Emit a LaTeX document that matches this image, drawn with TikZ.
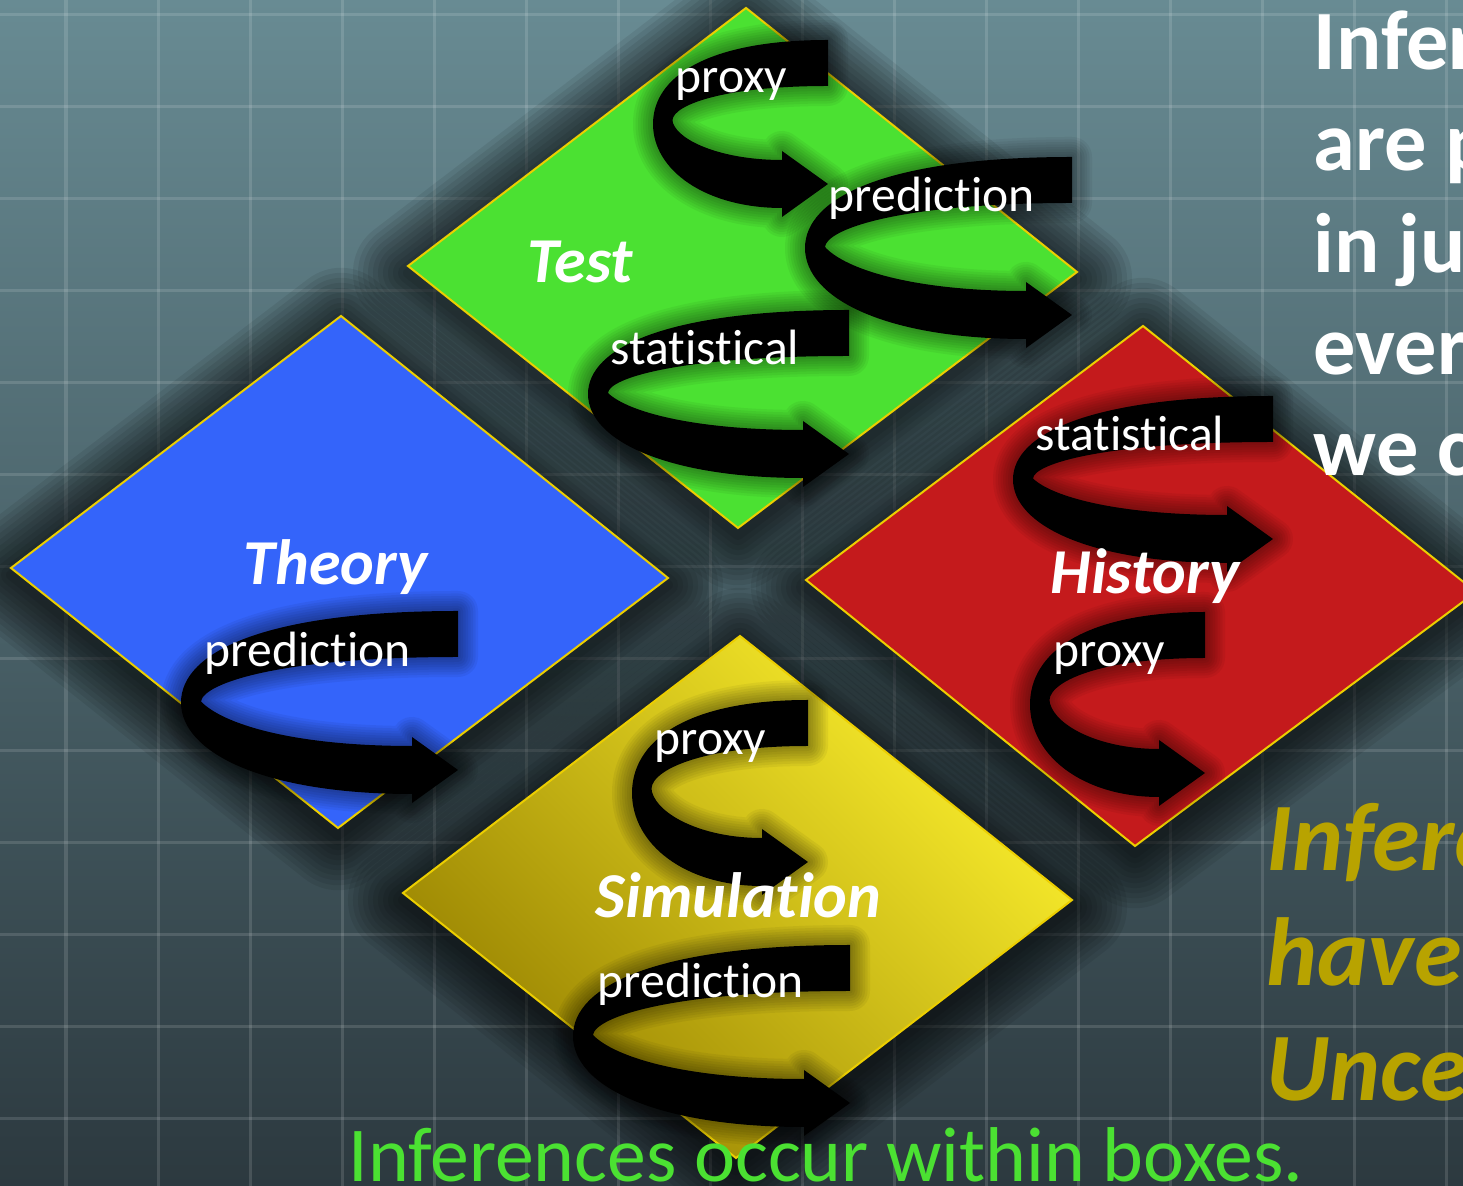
\documentclass[tikz,border=0pt]{standalone}
\usepackage{fontspec}
\setmainfont{Carlito}[Ligatures=NoCommon]
\usetikzlibrary{calc}
\definecolor{bgtop}{RGB}{104,139,147}
\definecolor{bgmid}{RGB}{72,96,104}
\definecolor{bgbot}{RGB}{44,57,63}
\definecolor{testgreen}{RGB}{75,225,50}
\definecolor{theoryblue}{RGB}{52,100,250}
\definecolor{historyred}{RGB}{196,26,28}
\definecolor{simlight}{RGB}{252,240,45}
\definecolor{simmid}{RGB}{228,200,10}
\definecolor{simdark}{RGB}{150,128,0}
\definecolor{rimyellow}{RGB}{236,206,0}
\definecolor{noteolive}{RGB}{184,163,0}
\tikzset{
  gridline/.style={white, opacity=0.13, line width=0.03cm},
  boxshade/.style={black, opacity=0.075, line join=round},
  box/.style={draw=rimyellow, line width=0.02cm},
  curlshade/.style={black, opacity=0.05, line join=round},
  curlfill/.style={fill=black},
  curllbl/.style={anchor=base west, text=white, inner sep=0pt,
                  font=\fontsize{14.1}{16}\selectfont},
  boxlbl/.style={anchor=base west, text=white, inner sep=0pt,
                 font=\fontsize{18.2}{20}\selectfont\bfseries\itshape},
  sidenote/.style={anchor=base west, text=white, inner sep=0pt,
                   font=\fontsize{24}{26}\selectfont\bfseries},
  sidewarn/.style={anchor=base west, text=noteolive, inner sep=0pt,
                   font=\fontsize{27.5}{30}\selectfont\bfseries\itshape},
  bottomnote/.style={anchor=base west, text=testgreen, inner sep=0pt,
                     font=\fontsize{22.1}{24}\selectfont}
}
% curled ribbon arrow: left x, right x, top y, tip y (pixels)
\newcommand{\curlarrow}[4]{%
  \pgfmathsetmacro\cw{#2-#1}%
  \pgfmathsetmacro\by{#3+46}%
  \pgfmathsetmacro\dy{#4-24}%
  \pgfmathsetmacro\cy{(\by+\dy)/2}%
  \pgfmathsetmacro\hy{#4+24}%
  \pgfmathsetmacro\iy{(#3+\hy)/2}%
  \pgfmathsetmacro\bx{#2-46}%
  \def\curlpath{(#2,#3) -- (#2,\by)
    .. controls ({#1+0.35*\cw},\by) and ({#1+0.08*\cw},{\cy-0.4*(\cy-\by)}) .. ({#1+20},\cy)
    .. controls ({#1+0.15*\cw},{\cy+0.5*(\dy-\cy)}) and ({#1+0.4*\cw},\dy) .. (\bx,\dy)
    -- (\bx,{#4-33}) -- (#2,#4) -- (\bx,{#4+33}) -- (\bx,\hy)
    .. controls ({#1+0.3*\cw},\hy) and (#1,{\iy+0.55*(\hy-\iy)}) .. (#1,\iy)
    .. controls (#1,{\iy-0.55*(\iy-#3)}) and ({#1+0.3*\cw},#3) .. (#2,#3) -- cycle}%
  \foreach \sw in {0.40cm,0.35cm,0.30cm,0.25cm,0.20cm,0.15cm,0.10cm,0.05cm}
    {\draw[curlshade, line width=\sw] \curlpath;}
  \fill[curlfill] \curlpath;
}

\begin{document}
\begin{tikzpicture}[x=0.01cm, y=-0.01cm]
\useasboundingbox (0,0) rectangle (1463,1186);
\clip (0,0) rectangle (1463,1186);
\shade[top color=bgtop, middle color=bgmid, bottom color=bgbot] (0,0) rectangle (1463,1186);
\foreach \gx in {0,...,15} \draw[gridline] ({66+92*\gx},0) -- ++(0,1186);
\foreach \gy in {0,...,12} \draw[gridline] (0,{15+92*\gy}) -- ++(1463,0);

% corners of the four boxes
\coordinate (test-n) at (746,8);      \coordinate (test-e) at (1077,272);
\coordinate (test-s) at (738,528);    \coordinate (test-w) at (408,266);
\coordinate (theory-n) at (341,316);  \coordinate (theory-e) at (668,578);
\coordinate (theory-s) at (338,828);  \coordinate (theory-w) at (11,568);
\coordinate (history-n) at (1143,326);\coordinate (history-e) at (1476,592);
\coordinate (history-s) at (1135,846);\coordinate (history-w) at (806,580);
\coordinate (sim-n) at (740,636);     \coordinate (sim-e) at (1072,900);
\coordinate (sim-s) at (736,1158);    \coordinate (sim-w) at (403,893);

\begin{scope}[transform canvas={yshift=-2pt}]
\foreach \d in {test,theory,history,sim}
  \foreach \sw in {1.1cm,1.0cm,0.9cm,0.8cm,0.7cm,0.6cm,0.5cm,0.4cm,0.3cm,0.2cm,0.1cm}
    \draw[boxshade, line width=\sw] (\d-n) -- (\d-e) -- (\d-s) -- (\d-w) -- cycle;
\end{scope}

\path[box, fill=testgreen] (test-n) -- (test-e) -- (test-s) -- (test-w) -- cycle;
\path[box, fill=theoryblue] (theory-n) -- (theory-e) -- (theory-s) -- (theory-w) -- cycle;
\path[box, fill=historyred] (history-n) -- (history-e) -- (history-s) -- (history-w) -- cycle;
\path[box, top color=simlight, middle color=simmid, bottom color=simdark, shading angle=-45]
  (sim-n) -- (sim-e) -- (sim-s) -- (sim-w) -- cycle;

\curlarrow{653}{828}{40}{184}
\curlarrow{805}{1072}{157}{315}
\curlarrow{588}{849}{310}{454}
\curlarrow{181}{458}{611}{770}
\curlarrow{1013}{1273}{396}{539}
\curlarrow{1030}{1205}{612}{773}
\curlarrow{632}{808}{700}{862}
\curlarrow{573}{850}{945}{1103}

\node[boxlbl] (testlbl) at (527,283) {Test};
\node[boxlbl] (theorylbl) at (243,585) {Theory};
\node[boxlbl] (historylbl) at (1050,594) {History};
\node[boxlbl] (simlbl) at (595,918) {Simulation};

\node[curllbl] (testproxy) at (675,93) {proxy};
\node[curllbl] (testpred) at (828,212) {prediction};
\node[curllbl] (teststat) at (610,365) {statistical};
\node[curllbl] (theorypred) at (204,667) {prediction};
\node[curllbl] (historystat) at (1035,451) {statistical};
\node[curllbl] (historyproxy) at (1053,667) {proxy};
\node[curllbl] (simproxy) at (654,755) {proxy};
\node[curllbl] (simpred) at (597,998) {prediction};

\node[sidenote] (note1) at (1313,70) {Infer};
\node[sidenote] (note2) at (1313,171) {are p};
\node[sidenote] (note3) at (1313,273) {in ju};
\node[sidenote] (note4) at (1313,375) {ever};
\node[sidenote] (note5) at (1313,476) {we c};
\node[sidewarn] (warn1) at (1266,871) {Infere};
\node[sidewarn] (warn2) at (1266,986) {have};
\node[sidewarn] (warn3) at (1266,1101) {Unce};
\node[bottomnote] (boxnote) at (348,1182) {Inferences occur within boxes.};
\end{tikzpicture}
\end{document}
